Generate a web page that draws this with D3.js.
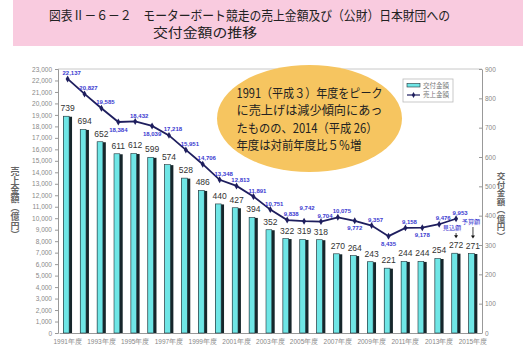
<!DOCTYPE html>
<html><head><meta charset="utf-8">
<script src="https://cdn.jsdelivr.net/npm/d3@7"></script>
<style>
html,body{margin:0;padding:0;background:#fff;}
svg{display:block;font-family:"Noto Sans CJK JP","Noto Sans",sans-serif;}
</style></head>
<body><svg id="c" width="523" height="357"></svg>
<script>
const years = d3.range(1991, 2016);
const grantValues = [739,694,652,611,612,599,574,528,486,440,427,394,352,322,319,318,270,264,243,221,244,244,254,272,271];
const salesYears = d3.range(1991, 2015);
const salesValues = [22137,20827,19585,18384,18432,18039,17218,15951,14706,13348,12813,11891,10751,9838,9742,9704,10075,9772,9357,8435,9158,9178,9476,9953];
const leftTicks = d3.range(0, 23001, 1000);
const rightTicks = d3.range(0, 901, 100);
const xTickYears = d3.range(1991, 2016, 2);
const titleLines = ["図表Ⅱ－６－２　モーターボート競走の売上金額及び（公財）日本財団への","交付金額の推移"];
const noteLines = ["1991（平成３）年度をピーク","に売上げは減少傾向にあっ","たものの、2014（平成 26）","年度は対前年度比５％増"];
const leftTitle = "売上金額（億円）";
const rightTitle = "交付金額（億円）";

const svg = d3.select("#c");
// title band
svg.append("rect").attr("x",13).attr("y",0).attr("width",510).attr("height",46).attr("fill","#f9cbdf");
svg.append("text").attr("x",49).attr("y",19.5).attr("font-size",13).attr("fill","#222")
  .attr("textLength",401).attr("lengthAdjust","spacingAndGlyphs").text(titleLines[0]);
svg.append("text").attr("x",153).attr("y",37).attr("font-size",13).attr("fill","#222")
  .attr("textLength",104).attr("lengthAdjust","spacingAndGlyphs").text(titleLines[1]);

const pL=58, pR=482, pT=69, pB=333;
const x = d3.scaleBand().domain(years).range([59.2,481.4]);
const yL = d3.scaleLinear().domain([0,23000]).range([pB,pT]);
const yR = d3.scaleLinear().domain([0,900]).range([pB,pT]);
const cx = d => x(d)+x.bandwidth()/2;

// frame
svg.append("line").attr("x1",pL).attr("x2",pR).attr("y1",pT).attr("y2",pT).attr("stroke","#c8c8c8");
// left axis
const gL = svg.append("g").attr("transform",`translate(${pL},0)`)
  .call(d3.axisLeft(yL).tickValues(leftTicks).tickSize(3).tickPadding(3).tickFormat(d3.format(",")));
gL.selectAll("path,line").attr("stroke","#999");
gL.selectAll("text").attr("font-size",6.5).attr("fill","#888").attr("font-family","Liberation Sans, Arial, sans-serif");
// right axis
const gR = svg.append("g").attr("transform",`translate(${pR},0)`)
  .call(d3.axisRight(yR).tickValues(rightTicks).tickSizeInner(-3).tickSizeOuter(0).tickPadding(3));
gR.selectAll("path,line").attr("stroke","#999");
gR.selectAll("text").attr("font-size",6.5).attr("fill","#888").attr("font-family","Liberation Sans, Arial, sans-serif");
// bottom axis
const gB = svg.append("g").attr("transform",`translate(0,${pB})`)
  .call(d3.axisBottom(x).tickValues(xTickYears).tickSize(0).tickPadding(6).tickFormat(d=>d+"年度"));
gB.select("path").attr("stroke","#999");
gB.selectAll("text").attr("font-size",6.5).attr("fill","#888");

// bars
const bars = svg.append("g");
years.forEach((yr,i)=>{
  const v = grantValues[i], c = cx(yr), ty = yR(v);
  bars.append("rect").attr("x",c-4.3).attr("y",ty+0.5).attr("width",8.7).attr("height",pB-ty-0.5).attr("fill","#16262b");
  bars.append("rect").attr("x",c-4.3).attr("y",ty).attr("width",5.8).attr("height",pB-ty)
    .attr("fill","#6fe6e6").attr("stroke","#22343a").attr("stroke-width",0.6);
  bars.append("text").attr("x",c).attr("y",ty-5).attr("text-anchor","middle").attr("font-size",8.5)
    .attr("font-family","Liberation Sans, Arial, sans-serif").attr("fill","#333").text(v);
});

// ellipse note
svg.append("ellipse").attr("cx",309.5).attr("cy",118.5).attr("rx",92.5).attr("ry",53.5).attr("fill","#f6c560");
const noteW = [146,146,141,125];
noteLines.forEach((t,i)=>{
  svg.append("text").attr("x",236.5).attr("y",98+i*17.3).attr("font-size",12.5).attr("fill","#222")
    .attr("textLength",noteW[i]).attr("lengthAdjust","spacingAndGlyphs").text(t);
});

// sales line
const line = d3.line().x((d,i)=>cx(salesYears[i])).y(d=>yL(d));
svg.append("path").datum(salesValues).attr("d",line).attr("fill","none").attr("stroke","#1e1e5e").attr("stroke-width",1.8);
const below = new Set([1994,1996,2008,2010,2012]);
const high = new Set([2005]);
salesValues.forEach((v,i)=>{
  const px = cx(salesYears[i]), py = yL(v), yr = salesYears[i];
  svg.append("path").attr("d",d3.symbol(d3.symbolDiamond,14)()).attr("transform",`translate(${px},${py})`).attr("fill","#1e1e5e");
  let lx = px+4, ly = py-6;
  if (below.has(yr)) { lx = px; ly = py+7.5; }
  if (high.has(yr)) { lx = px+3; ly = py-13; }
  svg.append("text").attr("x",lx).attr("y",ly).attr("dy","0.35em").attr("text-anchor","middle")
    .attr("font-size",6).attr("font-weight","bold").attr("font-family","Liberation Sans, Arial, sans-serif")
    .attr("fill","#3a3ad0").text(d3.format(",")(v));
});

// annotations
const annot = [{yr:2014,t:"見込額",tx:452,ty:228,ay:233},{yr:2015,t:"予算額",tx:471,ty:222,ay:227}];
annot.forEach(a=>{
  const c = cx(a.yr);
  const ey = yR(grantValues[years.indexOf(a.yr)])-15;
  svg.append("text").attr("x",a.tx).attr("y",a.ty).attr("dy","0.35em").attr("text-anchor","middle").attr("font-size",6.2).attr("fill","#3a3ad0").text(a.t);
  svg.append("line").attr("x1",c).attr("x2",c).attr("y1",a.ay).attr("y2",ey-2).attr("stroke","#111").attr("stroke-width",0.8);
  svg.append("path").attr("d",`M${c-2},${ey-3}L${c+2},${ey-3}L${c},${ey}Z`).attr("fill","#111");
});

// legend
const lg = svg.append("g");
lg.append("rect").attr("x",403).attr("y",79).attr("width",50).attr("height",23).attr("fill","#fff").attr("stroke","#bbb").attr("stroke-width",0.8);
lg.append("rect").attr("x",407).attr("y",83.5).attr("width",13).attr("height",3.5).attr("fill","#6fe6e6").attr("stroke","#22343a").attr("stroke-width",0.6);
lg.append("text").attr("x",423).attr("y",85.5).attr("dy","0.35em").attr("font-size",6.5).attr("fill","#777").text("交付金額");
lg.append("line").attr("x1",407).attr("x2",420).attr("y1",95).attr("y2",95).attr("stroke","#1e1e5e").attr("stroke-width",1.2);
lg.append("path").attr("d",d3.symbol(d3.symbolDiamond,10)()).attr("transform","translate(413.5,95)").attr("fill","#1e1e5e");
lg.append("text").attr("x",423).attr("y",95).attr("dy","0.35em").attr("font-size",6.5).attr("fill","#777").text("売上金額");

// axis titles (vertical writing)
svg.append("text").attr("x",15).attr("y",167).attr("font-size",9).attr("font-weight","bold").attr("fill","#666")
  .style("writing-mode","vertical-rl").style("text-orientation","upright").text(leftTitle);
svg.append("text").attr("x",501).attr("y",172).attr("font-size",8.5).attr("font-weight","bold").attr("fill","#666")
  .style("writing-mode","vertical-rl").style("text-orientation","upright").text(rightTitle);
</script></body></html>
